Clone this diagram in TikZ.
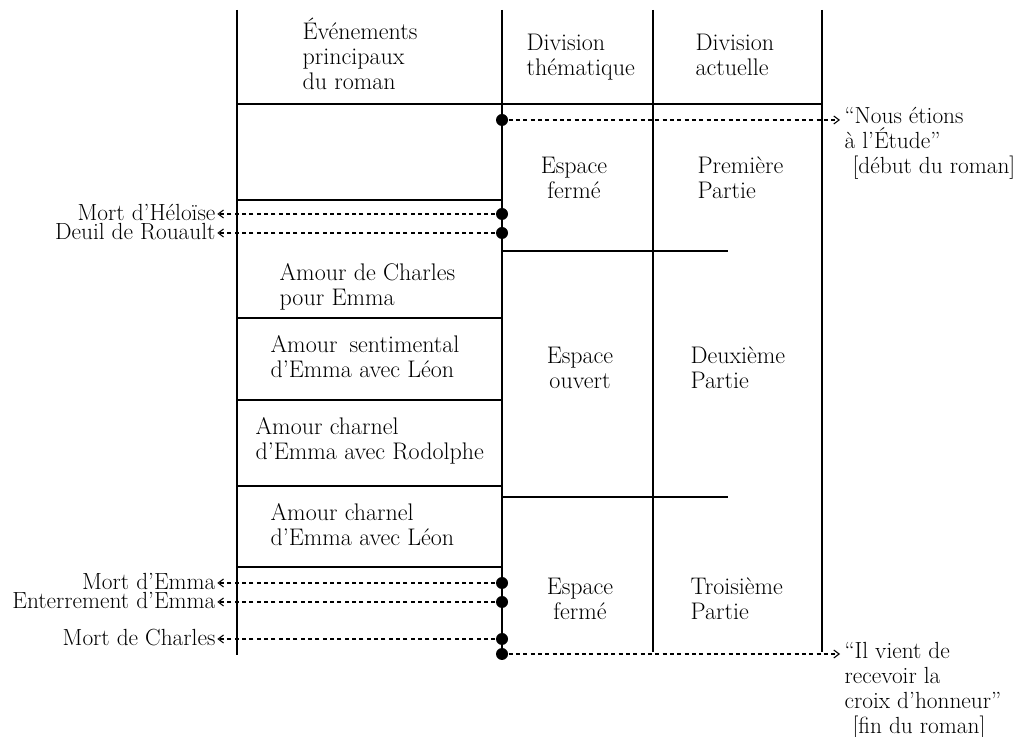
\documentclass[tikz,border=0pt]{standalone}
\usepackage{tikz}
\usetikzlibrary{arrows.meta}

\begin{document}
\begin{tikzpicture}[x=0.75pt,y=0.75pt,yscale=-1,xscale=1,line width=0.9pt,
  every node/.style={inner sep=0pt},
  txt/.style={font=\fontsize{18}{18.75}\selectfont,align=left},
  sidetxt/.style={font=\fontsize{17.5}{18.75}\selectfont,align=left},
  blackdot/.style={circle,fill=black,minimum size=9pt},
  dashlink/.style={dash pattern={on 3pt off 2.5pt},line width=0.8pt,
    -{Straight Barb[length=4pt,width=6pt,line width=0.8pt]}}]
\path[use as bounding box] (0,0) rectangle (1033,737);

%Straight Lines
\draw    (237,10) -- (237,655) ;
\draw    (502,10) -- (502,654) ;
\draw    (653,10) -- (653,652) ;
\draw    (822,10) -- (822,652) ;
%Straight Lines
\draw    (237,104) -- (822,104) ;
\draw    (237,200) -- (502,200) ;
\draw    (237,318) -- (502,318) ;
\draw    (237,400) -- (502,400) ;
\draw    (237,486) -- (502,486) ;
\draw    (237,567) -- (502,567) ;
\draw    (502,251) -- (728,251) ;
\draw    (502,497) -- (728,497) ;

% Dots
\draw (502,120) node [blackdot] (dDebut) {};
\draw (502,214) node [blackdot] (dHeloise) {};
\draw (502,233) node [blackdot] (dRouault) {};
\draw (502,583) node [blackdot] (dEmma) {};
\draw (502,602) node [blackdot] (dEnterrement) {};
\draw (502,639) node [blackdot] (dCharles) {};
\draw (502,654) node [blackdot] (dFin) {};

% Text Node
\draw (302,90) node [anchor=base west][txt] (hEvents) {Événements\\principaux\\du roman};
% Text Node
\draw (526,76) node [anchor=base west][txt] (hThema) {Division\\thématique};
% Text Node
\draw (695,76) node [anchor=base west][txt] (hActu) {Division\\actuelle};
% Text Node
\draw (844,174) node [anchor=base west][sidetxt] (tDebut) {“Nous étions\\à l’Étude”\\\hspace*{6pt}[début du roman]};
% Text Node
\draw (574,199) node [anchor=base][txt,align=center] (tEspaceA) {Espace\\fermé};
% Text Node
\draw (697,199) node [anchor=base west][txt] (tPartieA) {Première\\Partie};
% Text Node
\draw (216,221) node [anchor=base east][sidetxt] (tHeloise) {Mort d’Héloïse};
% Text Node
\draw (216,240) node [anchor=base east][sidetxt] (tRouault) {Deuil de Rouault};
% Text Node
\draw (279,306) node [anchor=base west][txt] (tCharles) {Amour de Charles\\pour Emma};
% Text Node
\draw (270,378) node [anchor=base west][txt] (tSentim) {Amour\hspace{0.5em}sentimental\\d’Emma avec Léon};
% Text Node
\draw (255,460) node [anchor=base west][txt] (tRodolphe) {Amour charnel\\d’Emma avec Rodolphe};
% Text Node
\draw (270,546) node [anchor=base west][txt] (tCharnel) {Amour charnel\\d’Emma avec Léon};
% Text Node
\draw (580,389) node [anchor=base][txt,align=center] (tEspaceB) {Espace\\ouvert};
% Text Node
\draw (690,389) node [anchor=base west][txt] (tPartieB) {Deuxième\\Partie};
% Text Node
\draw (580,620) node [anchor=base][txt,align=center] (tEspaceC) {Espace\\fermé};
% Text Node
\draw (690,620) node [anchor=base west][txt] (tPartieC) {Troisième\\Partie};
% Text Node
\draw (216,590) node [anchor=base east][sidetxt] (tEmma) {Mort d’Emma};
% Text Node
\draw (216,609) node [anchor=base east][sidetxt] (tEnterrement) {Enterrement d’Emma};
% Text Node
\draw (216,646) node [anchor=base east][sidetxt] (tMortCharles) {Mort de Charles};
% Text Node
\draw (844,734) node [anchor=base west][sidetxt] (tFin) {“Il vient de\\recevoir la\\croix d’honneur”\\\hspace*{6pt}[fin du roman]};

%Dashed arrows
\draw [dashlink,shorten >=3pt] (dDebut) -- (dDebut -| tDebut.west) ;
\draw [dashlink,shorten >=1pt] (dHeloise) -- (dHeloise -| tHeloise.east) ;
\draw [dashlink,shorten >=1pt] (dRouault) -- (dRouault -| tRouault.east) ;
\draw [dashlink,shorten >=1pt] (dEmma) -- (dEmma -| tEmma.east) ;
\draw [dashlink,shorten >=1pt] (dEnterrement) -- (dEnterrement -| tEnterrement.east) ;
\draw [dashlink,shorten >=1pt] (dCharles) -- (dCharles -| tMortCharles.east) ;
\draw [dashlink,shorten >=3pt] (dFin) -- (dFin -| tFin.west) ;
\end{tikzpicture}
\end{document}
